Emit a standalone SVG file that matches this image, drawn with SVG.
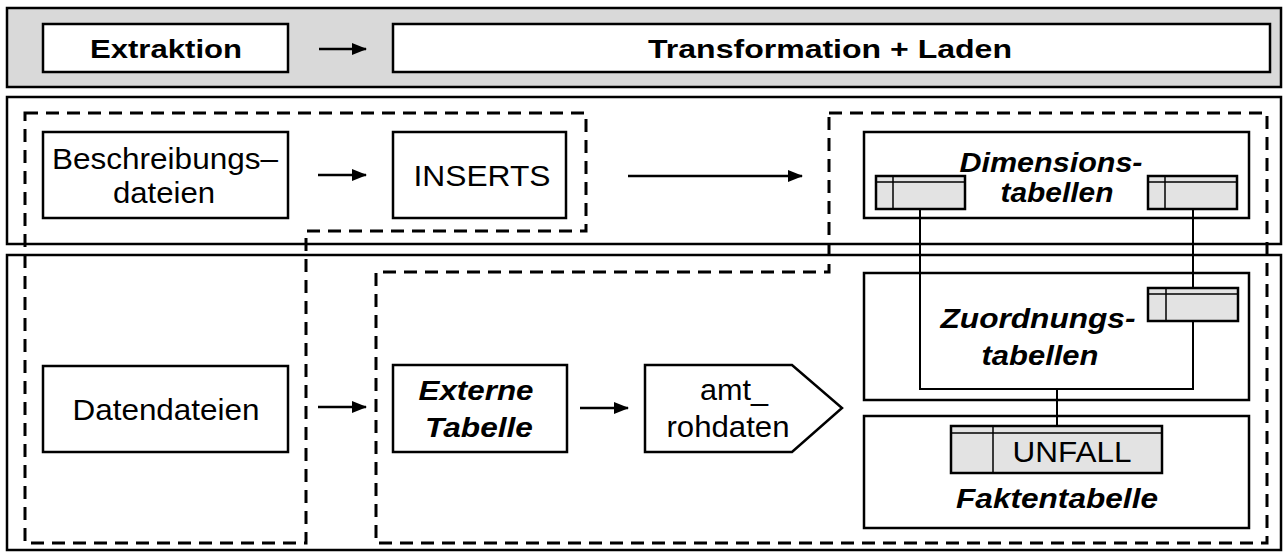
<svg xmlns="http://www.w3.org/2000/svg" width="1283" height="556" viewBox="0 0 1283 556">
<defs>
<marker id="ah" markerWidth="15" markerHeight="12" refX="14" refY="6" orient="auto" markerUnits="userSpaceOnUse">
<path d="M0,0 L15,6 L0,12 Z" fill="#000"/>
</marker>
<style>
.box{fill:#fff;stroke:#000;stroke-width:2.5}
.band{fill:#fff;stroke:#000;stroke-width:2.5}
.dash{fill:none;stroke:#000;stroke-width:3;stroke-dasharray:13,8}
.arr{stroke:#000;stroke-width:2.5;fill:none;marker-end:url(#ah)}
.con{stroke:#000;stroke-width:2;fill:none}
.tbl{fill:#e3e3e3;stroke:#000;stroke-width:2.5}
.tl{stroke:#000;stroke-width:1.5}
.t{font-family:"Liberation Sans",Arial,sans-serif;font-size:29px;fill:#000;text-anchor:middle}
.b{font-weight:bold;font-size:26px}
.bi{font-weight:bold;font-style:italic;font-size:27px}
</style>
</defs>
<rect x="0" y="0" width="1283" height="556" fill="#fff"/>
<g id="header">
<rect x="7" y="8" width="1274" height="79" fill="#d9d9d9" stroke="#000" stroke-width="2.5"/>
</g>
<g id="band-upper"><rect class="band" x="7" y="97" width="1274" height="147"/></g>
<g id="band-lower"><rect class="band" x="7" y="255" width="1274" height="295"/></g>
<g id="dashed-regions">
<path class="dash" d="M25,113 H586 V231 H306 V543 H25 Z"/>
<path class="dash" d="M829,113 H1267 V543 H376 V272 H829 Z"/>
</g>
<g id="extraktion">
<rect class="box" x="43" y="24" width="245" height="48"/>
<text class="t b" x="166" y="58" textLength="152" lengthAdjust="spacingAndGlyphs">Extraktion</text>
</g>
<g id="transformation">
<rect class="box" x="393" y="24" width="877" height="48"/>
<text class="t b" x="830" y="58" textLength="364" lengthAdjust="spacingAndGlyphs">Transformation + Laden</text>
</g>
<g id="beschreibungsdateien">
<rect class="box" x="43" y="132" width="245" height="86"/>
<text class="t" x="165" y="169" textLength="226" lengthAdjust="spacingAndGlyphs">Beschreibungs–</text>
<text class="t" x="164" y="203" textLength="102" lengthAdjust="spacingAndGlyphs">dateien</text>
</g>
<g id="inserts">
<rect class="box" x="393" y="132" width="173" height="86"/>
<text class="t" x="482" y="186" textLength="137" lengthAdjust="spacingAndGlyphs">INSERTS</text>
</g>
<g id="dimensionstabellen">
<rect class="box" x="864" y="132" width="385" height="86"/>
<text class="t bi" x="1051" y="172" textLength="183" lengthAdjust="spacingAndGlyphs">Dimensions-</text>
<text class="t bi" x="1057" y="202" textLength="113" lengthAdjust="spacingAndGlyphs">tabellen</text>
<rect class="tbl" x="876" y="176" width="89" height="33"/>
<line class="tl" x1="876" y1="182" x2="965" y2="182"/>
<line class="tl" x1="893" y1="176" x2="893" y2="209" stroke-width="2"/>
<rect class="tbl" x="1148" y="176" width="89" height="33"/>
<line class="tl" x1="1148" y1="182" x2="1237" y2="182"/>
<line class="tl" x1="1165" y1="176" x2="1165" y2="209" stroke-width="2"/>
</g>
<g id="zuordnungstabellen">
<rect class="box" x="864" y="273" width="385" height="127"/>
<text class="t bi" x="1038" y="328" textLength="195" lengthAdjust="spacingAndGlyphs">Zuordnungs-</text>
<text class="t bi" x="1040" y="365" textLength="117" lengthAdjust="spacingAndGlyphs">tabellen</text>
</g>
<g id="faktentabelle">
<rect class="box" x="864" y="416" width="385" height="112"/>
<text class="t bi" x="1057" y="508" textLength="202" lengthAdjust="spacingAndGlyphs">Faktentabelle</text>
</g>
<g id="datendateien">
<rect class="box" x="43" y="366" width="245" height="86"/>
<text class="t" x="166" y="420" textLength="187" lengthAdjust="spacingAndGlyphs">Datendateien</text>
</g>
<g id="externe-tabelle">
<rect class="box" x="393" y="365" width="174" height="87"/>
<text class="t bi" x="476" y="400" textLength="115" lengthAdjust="spacingAndGlyphs">Externe</text>
<text class="t bi" x="479" y="437" textLength="108" lengthAdjust="spacingAndGlyphs">Tabelle</text>
</g>
<g id="amt-rohdaten">
<path class="box" d="M645,365 H792 L842,408 L792,452 H645 Z"/>
<text class="t" x="734" y="400" textLength="68" lengthAdjust="spacingAndGlyphs">amt_</text>
<text class="t" x="728" y="437" textLength="123" lengthAdjust="spacingAndGlyphs">rohdaten</text>
</g>
<g id="connectors">
<line class="arr" x1="319" y1="49" x2="366" y2="49"/>
<line class="arr" x1="318" y1="175" x2="366" y2="175"/>
<line class="arr" x1="628" y1="176" x2="802" y2="176"/>
<line class="arr" x1="318" y1="407" x2="366" y2="407"/>
<line class="arr" x1="580" y1="408" x2="628" y2="408"/>
<path class="con" d="M920,209 V389 H1193 V209"/>
<line class="con" x1="1057" y1="389" x2="1057" y2="426"/>
</g>
<g id="zuordnung-table">
<rect class="tbl" x="1148" y="288" width="90" height="33"/>
<line class="tl" x1="1148" y1="294" x2="1238" y2="294"/>
<line class="tl" x1="1166" y1="288" x2="1166" y2="321" stroke-width="2"/>
</g>
<g id="unfall-table">
<rect class="tbl" x="951" y="426" width="211" height="47"/>
<line class="tl" x1="951" y1="433" x2="1162" y2="433"/>
<line class="tl" x1="993" y1="426" x2="993" y2="473" stroke-width="2"/>
<text class="t" x="1072" y="462" textLength="119" lengthAdjust="spacingAndGlyphs">UNFALL</text>
</g>
</svg>
